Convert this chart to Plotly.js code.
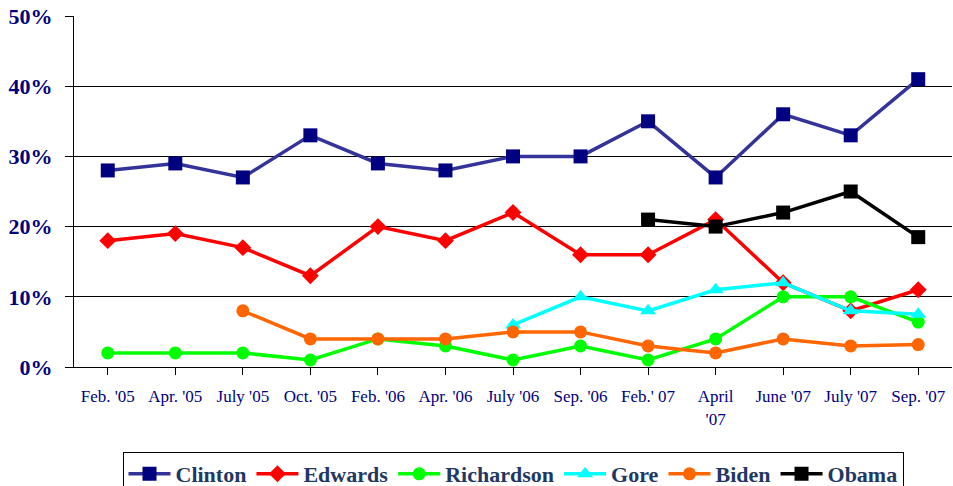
<!DOCTYPE html>
<html>
<head>
<meta charset="utf-8">
<script src="https://cdn.plot.ly/plotly-3.0.1.min.js"></script>
<style>html,body{margin:0;padding:0;background:#fff;}#chart{width:953px;height:486px;}</style>
</head>
<body>
<div id="chart"></div>
<script>
const categories = ["Feb. '05","Apr. '05","July '05","Oct. '05","Feb. '06","Apr. '06","July '06","Sep. '06","Feb.' 07","April<br>'07","June '07","July '07","Sep. '07"];
const clinton    = [28, 29, 27, 33, 29, 28, 30, 30, 35, 27, 36, 33, 41];
const edwards    = [18, 19, 17, 13, 20, 18, 22, 16, 16, 21, 12, 8, 11];
const richardson = [2, 2, 2, 1, 4, 3, 1, 3, 1, 4, 10, 10, 6.4];
const gore       = [null, null, null, null, null, null, 6, 10, 8, 11, 12, 8, 7.5];
const biden      = [null, null, 8, 4, 4, 4, 5, 5, 3, 2, 4, 3, 3.2];
const obama      = [null, null, null, null, null, null, null, null, 21, 20, 22, 25, 18.5];

const x = categories.map((c, i) => i);
const SERIF = 'Liberation Serif';

function series(name, y, lineColor, markerColor, symbol, size) {
  return {
    type: 'scatter', mode: 'lines+markers', name: name, x: x, y: y,
    line: {color: lineColor, width: 3.5},
    marker: {color: markerColor, symbol: symbol, size: size},
    connectgaps: false
  };
}

const data = [
  series('Clinton', clinton, '#333399', '#000080', 'square', 14),
  series('Edwards', edwards, '#FF0000', '#FF0000', 'diamond', 13),
  series('Richardson', richardson, '#00FF00', '#00FF00', 'circle', 13),
  series('Gore', gore, '#00FFFF', '#00FFFF', 'triangle-up', 14),
  series('Biden', biden, '#FF6600', '#FF6600', 'circle', 13),
  series('Obama', obama, '#000000', '#000000', 'square', 14)
];

const layout = {
  width: 953, height: 486,
  margin: {l: 74, r: 1, t: 16, b: 119},
  paper_bgcolor: '#fff', plot_bgcolor: '#fff',
  showlegend: true,
  font: {family: SERIF, color: '#000080'},
  xaxis: {
    range: [-0.5, 12.5],
    tickmode: 'array', tickvals: x, ticktext: categories,
    ticks: 'outside', tickson: 'boundaries', ticklen: 7, tickcolor: '#000', tickwidth: 1,
    showline: true, linecolor: '#000', linewidth: 1,
    showgrid: false, zeroline: false,
    tickfont: {family: SERIF, size: 17, color: '#000080'},
    ticklabelstandoff: 7,
    fixedrange: true
  },
  yaxis: {
    range: [0, 50], dtick: 10, tick0: 0, ticksuffix: '%',
    ticks: 'outside', ticklen: 8, tickcolor: '#000', tickwidth: 1,
    showline: true, linecolor: '#000', linewidth: 1,
    showgrid: true, gridcolor: '#000', gridwidth: 1,
    zeroline: false,
    tickfont: {family: SERIF, size: 22, color: '#000080', weight: 'bold'},
    ticklabelstandoff: 8,
    fixedrange: true
  },
  legend: {
    orientation: 'h', x: 0.5, xanchor: 'center',
    yref: 'container', y: 0.07, yanchor: 'top',
    bordercolor: '#000', borderwidth: 1, bgcolor: '#fff',
    font: {family: SERIF, size: 22, color: '#1F3864', weight: 'bold'},
    itemwidth: 42, tracegroupgap: 0
  }
};

Plotly.newPlot('chart', data, layout, {displayModeBar: false, staticPlot: true});
</script>
</body>
</html>
